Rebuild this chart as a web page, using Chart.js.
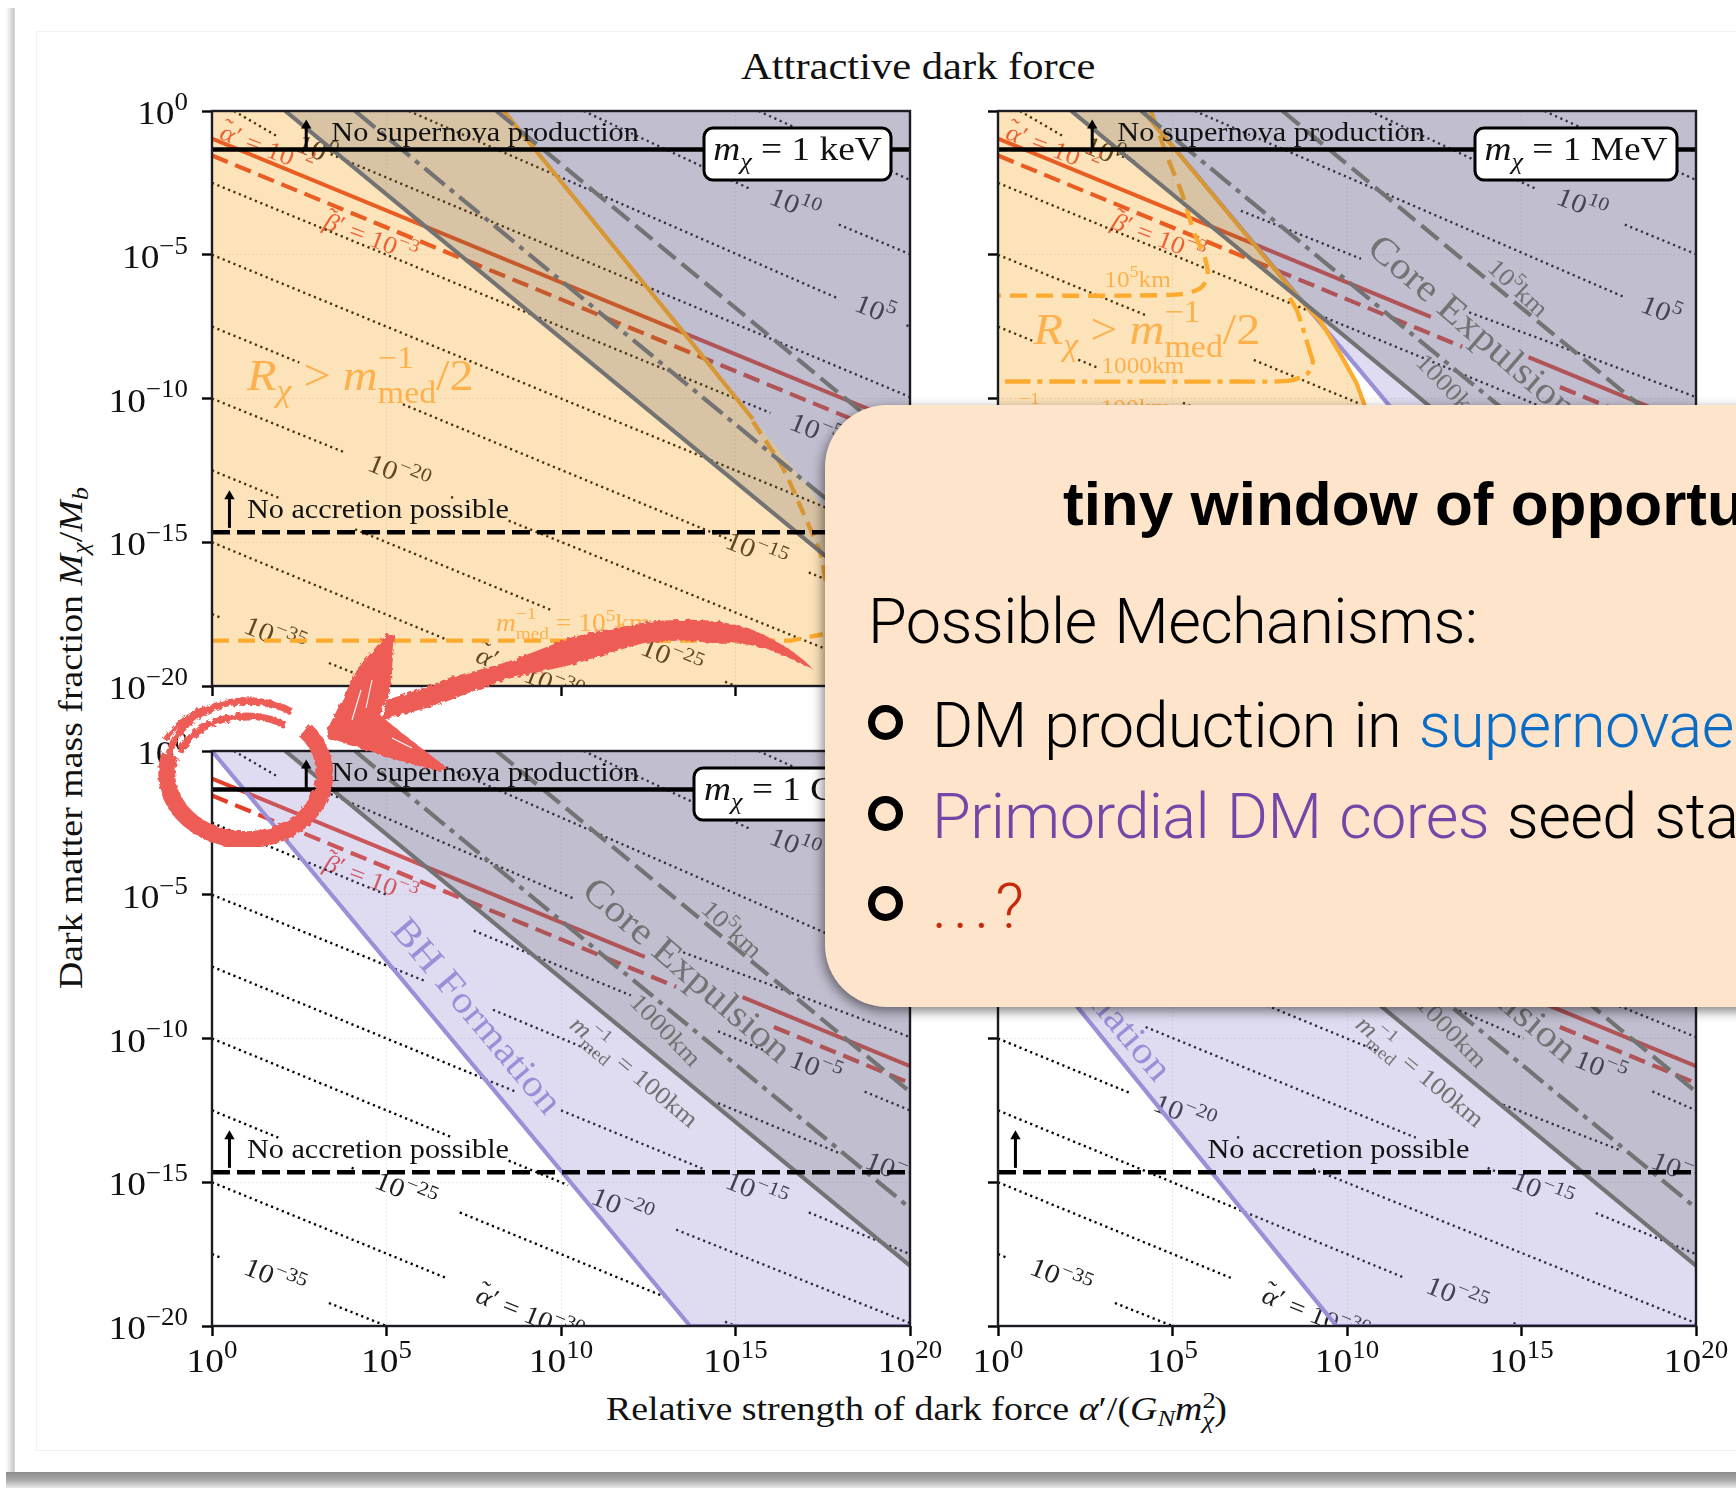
<!DOCTYPE html>
<html>
<head>
<meta charset="utf-8">
<script src="https://cdn.jsdelivr.net/npm/chart.js"></script>
<style>
html, body { margin: 0; padding: 0; width: 1736px; height: 1488px; overflow: hidden; background: #fff; }
canvas { position: absolute; }
.abs { position: absolute; white-space: nowrap; }
.cm { font-family: "Liberation Serif", serif; color: #111; transform-origin: 0 0; }
.cm i { font-style: italic; }
.sl { position: relative; display: inline-block; font-size: 70%; }
#sideShade { left: 6px; top: 8px; width: 9px; height: 1464px; background: linear-gradient(to right, #fff, #c8c8c8 90%, #e8e8e8); }
#botShade { left: 6px; top: 1472px; width: 1730px; height: 16px; background: linear-gradient(to bottom, #8c8c8c, #a8a8a8 50%, #e8e8e8); }
#card { left: 36px; top: 31px; width: 1760px; height: 1418px; border: 1px solid #f3f3f3; }
#callout { left: 825px; top: 405px; width: 1000px; height: 602px; background: #fee4ca; border-radius: 62px; box-shadow: -2px 4px 12px rgba(0,0,0,.5); }
.say { font-family: Roboto, "Liberation Sans", sans-serif; font-weight: 300; font-size: 63px; line-height: 70px; color: #000; letter-spacing: -0.6px; word-spacing: 3px; }
.bul { left: 868px; width: 21px; height: 21px; border: 7px solid #000; border-radius: 50%; }
</style>
</head>
<body>
<div class="abs" id="sideShade"></div>
<div class="abs" id="botShade"></div>
<div class="abs" id="card"></div>

<div class="abs cm" id="title" style="left:741px;top:44px;font-size:38px;transform:scaleX(1.12)">Attractive dark force</div>
<div class="abs cm" id="xlab" style="left:606px;top:1390px;font-size:34px;transform:scaleX(1.115)">Relative strength of dark force <i>α</i>′/(<i>G<span class="sl" style="top:6px">N</span>m</i><span class="sl" style="top:-12px;width:0">2</span><span class="sl" style="top:8px"><i>χ</i></span>)</div>
<div class="abs cm" id="ylab" style="left:52px;top:989px;font-size:34px;transform:rotate(-90deg) scaleX(1.113)">Dark matter mass fraction <i>M<span class="sl" style="top:6px">χ</span></i>/<i>M<span class="sl" style="top:6px">b</span></i></div>

<canvas id="chartTL"></canvas>
<canvas id="chartTR"></canvas>
<canvas id="chartBL"></canvas>
<canvas id="chartBR"></canvas>

<div class="abs" id="callout"></div>
<div class="abs say" style="left:1063px;top:469px;font-family:'Liberation Sans';font-weight:700;font-size:62px;letter-spacing:0;word-spacing:0">tiny window of opportunity</div>
<div class="abs say" style="left:868px;top:587px">Possible Mechanisms:</div>
<div class="abs bul" style="top:705px"></div>
<div class="abs say" style="left:932px;top:691px">DM production in <span style="color:#0a6cc5">supernovae</span></div>
<div class="abs bul" style="top:796px"></div>
<div class="abs say" style="left:932px;top:782px"><span style="color:#7545a8">Primordial DM cores</span> seed stars</div>
<div class="abs bul" style="top:886px"></div>
<div class="abs say" style="left:932px;top:872px;color:#c8290a;letter-spacing:6px">...?</div>

<svg class="abs" style="left:0;top:0" width="1736" height="1488">
  <defs>
    <filter id="brush" x="-5%" y="-5%" width="110%" height="110%">
      <feTurbulence type="fractalNoise" baseFrequency="0.22" numOctaves="2" seed="4"/>
      <feDisplacementMap in="SourceGraphic" scale="5"/>
    </filter>
  </defs>
  <g filter="url(#brush)" fill="#ee5c57" stroke="none">
    <path d="M813 669 Q790 645 748 628 Q715 618 679 620 Q650 620 627 626 Q600 630 569 638 Q540 650 507 662 Q480 670 451 677 Q420 690 386 700 L383 720 Q410 712 438 705 Q470 692 507 679 Q540 672 575 664 Q610 652 644 643 Q680 638 713 643 Q740 642 765 648 Q790 658 813 669 Z"/>
    <path d="M387 634 L395 635 L390 690 L380 715 L402 733 L447 768 L440 772 L390 758 L327 738 L328 728 L358 668 Z"/>
  </g>
  <g filter="url(#brush)" fill="none" stroke="#ee5c57">
    <path d="M305 730 A79 66 0 1 1 170 755" stroke-width="17"/>
    <path d="M168 760 A80 66 0 0 1 292 712" stroke-width="7"/>
    <path d="M180 752 A72 58 0 0 1 285 725" stroke-width="7"/>
    <path d="M165 740 A86 72 0 0 1 260 704" stroke-width="5"/>
  </g>
  <g fill="none" stroke="#fff" stroke-width="1.1">
    <path d="M361 690 L352 720"/><path d="M372 680 L366 708"/><path d="M392 738 L412 748"/>
  </g>
</svg>

<script>
// values are log10 of the axis values
const xTicks = [1e0, 1e5, 1e10, 1e15, 1e20];
const yTicks = [1e0, 1e-5, 1e-10, 1e-15, 1e-20];
const xTickExp = ['0', '5', '10', '15', '20'];
const yTickExp = ['0', '−5', '−10', '−15', '−20'];

// gray core expulsion lines
const coreSolidX = [2.1, 20];
const coreSolidY = [0, -17.9];
const coreDashDotX = [4.1, 20];
const coreDashDotY = [0, -15.9];
const coreDashX = [8.15, 20];
const coreDashY = [0, -11.85];

// red lines
const redSolidX = [0, 20];
const redSolidY = [-0.96, -10.96];
const redDashX = [0, 20];
const redDashY = [-1.55, -11.55];
const redSolidGapX = [0, 12.4, null, 15.2, 20];
const redSolidGapY = [-0.96, -7.16, null, -8.56, -10.96];
const redDashGapX = [0, 13.3, null, 16.1, 20];
const redDashGapY = [-1.55, -8.2, null, -9.6, -11.55];

// horizontal limits
const noSupernovaY = -1.34;
const noAccretionY = -14.65;

// BH formation edge per panel
const lavTLX = [8.36, 13.46, 17.54, 18.2, 20];
const lavTLY = [0, -7.62, -13.77, -20, -20];
const lavTRX = [4.16, 11.16, 17.86, 20];
const lavTRY = [0, -10.17, -20, -20];
const lavBLX = [0, 13.7, 20];
const lavBLY = [0, -20, -20];
const lavBRX = [0, 9.4, 9.7, 20];
const lavBRY = [-5.5, -19.55, -20, -20];

// size region
const orangeTLX = [0, 8.36, 13.46, 17.54, 18.2];
const orangeTLY = [0, 0, -7.62, -13.77, -20];
const orangeEdgeTLX = [8.36, 13.46, 15.5];
const orangeEdgeTLY = [0, -7.62, -10.72];
const orangeTRX = [0, 4.16, 8.65, 9.24, 9.83, 10.27, 10.49, 10.6, 11];
const orangeTRY = [0, 0, -6.55, -7.3, -8.5, -9.46, -10.18, -11, -20];
const orangeEdgeTRX = [4.16, 8.65, 9.24, 9.83, 10.27, 10.49, 10.6];
const orangeEdgeTRY = [0, -6.55, -7.3, -8.5, -9.46, -10.18, -11];

const orangeDashTLX = [15.5, 16.35, 16.77, 17.45, 17.6];
const orangeDashTLY = [-10.8, -12.4, -13.5, -15.45, -16.5];
const orangeFlatTLX = [0, 16.6, 17.5];
const orangeFlatTLY = [-18.42, -18.42, -18.2];
const orangeDashTRX = [4.38, 4.89, 5.26, 5.63, 5.92, 6.01, 5.78, 5.26, 3.94, 0];
const orangeDashTRY = [0, -1.71, -2.83, -4.27, -5.06, -5.78, -6.18, -6.37, -6.42, -6.42];
const orangeDotTRX = [8.36, 8.58, 8.95, 9.02, 8.87, 8.36, 6.88, 0.2];
const orangeDotTRY = [-6.5, -6.98, -8.42, -8.74, -9.13, -9.38, -9.41, -9.41];

// dotted contours, each piece is x1, y1, x2, y2
const contoursTL = [
  [15.66, 0, 20, -2.4],
  [10.65, 0, 15.4, -2.7], [17.96, -3.95, 20, -4.98],
  [5.64, 0, 17.9, -6.5], [19.9, -7.45, 20, -7.5],
  [0.63, 0, 1.87, -0.88], [3.4, -1.5, 20, -9.95],
  [0, -2.5, 16, -10.5], [18.6, -11.8, 20, -12.5],
  [0, -5, 18, -14],
  [0, -7.5, 2.5, -8.75], [5.47, -10.2, 15, -15], [17.1, -16.05, 20, -17.5],
  [0, -10, 3.85, -11.9], [6.85, -13.42, 6.95, -13.48], [8.5, -14.25, 20, -19.9],
  [0, -12.5, 2, -13.5], [4.1, -14.55, 9.72, -17.36], [14.7, -19.85, 15, -20],
  [0, -15, 6.75, -18.4],
  [0, -17.5, 0.3, -17.65], [3.35, -19.2, 5, -20]
];
const contoursTR = [
  [15.66, 0, 20, -2.4],
  [10.65, 0, 15.4, -2.7], [17.96, -3.95, 20, -4.98],
  [5.64, 0, 17.9, -6.45],
  [0.63, 0, 1.87, -0.88], [3.4, -1.5, 4, -1.8], [6.96, -3.47, 10.4, -5.14], [13.5, -7, 20, -9.95],
  [0, -2.5, 16, -10.5],
  [0, -5, 4.23, -7.1], [7.33, -8.66, 10.4, -10.2],
  [0, -7.5, 1, -8], [2.3, -8.65, 2.9, -8.95], [5.3, -10.15, 5.5, -10.25]
];
const contoursBL = [
  [15.66, 0, 20, -2.4],
  [10.65, 0, 15.4, -2.7], [17.96, -3.95, 20, -4.98],
  [5.64, 0, 17.9, -6.5],
  [0.63, 0, 1.87, -0.88], [3.4, -1.5, 10.4, -5.15], [13.5, -7, 20, -9.95],
  [0, -2.5, 5, -5], [7.5, -6.25, 12, -8.5], [14.5, -9.75, 16, -10.5], [18.7, -11.85, 20, -12.5],
  [0, -5, 6.1, -8], [8.05, -9, 11, -10.5], [14.5, -12.25, 18, -14],
  [0, -7.5, 8.7, -11.85], [10, -12.5, 14.1, -14.55], [17.1, -16.05, 20, -17.5],
  [0, -10, 6.9, -13.45], [8.5, -14.25, 10.2, -15.1], [13.3, -16.65, 20, -19.9],
  [0, -12.5, 1.9, -13.45], [4, -14.5, 4.1, -14.55], [7.1, -16.05, 13.1, -19.05], [14.7, -19.85, 15, -20],
  [0, -15, 6.75, -18.35],
  [0, -17.5, 0.3, -17.65], [3.35, -19.2, 5, -20]
];
const contoursBR = [
  [17.8, -8.87, 20, -9.95],
  [13.22, -9.03, 15.06, -10],
  [18.75, -11.84, 20, -12.5],
  [7.7, -8.85, 10.9, -10.45], [14.47, -12.3, 17.86, -13.9],
  [4.23, -9.6, 11.97, -13.45], [14.03, -14.5, 14.3, -14.65], [17.13, -16.07, 20, -17.5],
  [0, -10, 3.79, -11.9], [6.85, -13.42, 6.95, -13.48], [9.02, -14.54, 20, -19.9],
  [0, -12.5, 11.6, -18.3], [14.77, -19.9, 15, -20],
  [0, -15, 6.74, -18.36],
  [0, -17.5, 0.25, -17.62], [3.35, -19.2, 5, -20]
];

// text helpers, runs are [text, relative size, italic, raise, no advance]
const pow = e => [['10', 1], [e, 0.72, false, -0.42]];
const massRuns = u => [['m', 1, true], ['χ', 0.7, true, 0.25], [' = 1 ', 1], [u, 1]];
const tilded = g => [['˜', 1, false, -0.2, true], [g, 1, true], ['′', 1, false, -0.05]];
const alphaRuns = e => [...tilded('α'), [' = 10', 1], [e, 0.72, false, -0.42]];
const betaRuns = e => [...tilded('β'), [' = 10', 1], [e, 0.72, false, -0.42]];
const sizeRuns = [['R', 1, true], ['χ', 0.7, true, 0.25], [' > ', 1], ['m', 1, true], ['−1', 0.7, false, -0.5, true], ['med', 0.7, false, 0.3], ['/2', 1]];
const medRuns = [['m', 1, true], ['−1', 0.7, false, -0.5, true], ['med', 0.7, false, 0.3], [' = 100km', 1]];
const kmRuns = [['10', 1], ['5', 0.7, false, -0.42], ['km', 1]];

const GREY = '#737373', ORG = '#fdb04b', LAV = '#9a90d8', REDT = '#e8453c', INK = '#222';
const ct = (e, x, y) => ({ t: pow(e), x, y, rot: 22, size: 27, color: INK, under: true });
const lab = (t, x, y, rot, size, color, under) => ({ t, x, y, rot, size, color, under });

const textTL = [
  ct('10', 16.7, -3.25), ct('5', 19, -6.9), ct('−5', 17.3, -11.1), ct('−15', 15.6, -15.3),
  ct('−20', 5.35, -12.6), ct('−25', 13.17, -19), ct('−35', 1.8, -18.25), ct('0', 3, -1.35),
  lab(alphaRuns('−30'), 9.1, -19.6, 22, 26, INK, true),
  lab(alphaRuns('−2'), 1.58, -1.3, 21, 25, REDT, true),
  lab(betaRuns('−3'), 4.55, -4.4, 21, 25, REDT, true),
  lab(sizeRuns, 4.25, -9.2, 0, 44, ORG),
  lab([['m', 1, true], ['−1', 0.7, false, -0.5, true], ['med', 0.7, false, 0.3], [' = 10', 1], ['5', 0.7, false, -0.42], ['km', 1]], 10.35, -17.8, 0, 25, ORG)
];
const textTR = [
  ct('10', 16.73, -3.25), ct('5', 19, -6.93), ct('0', 3.05, -1.4),
  lab(alphaRuns('−2'), 1.58, -1.3, 21, 25, REDT, true),
  lab(betaRuns('−3'), 4.6, -4.4, 21, 25, REDT, true),
  lab(sizeRuns, 4.27, -7.6, 0, 44, ORG),
  lab(kmRuns, 4, -5.86, 0, 23, ORG),
  lab([['1000km', 1]], 4.15, -8.85, 0, 23, ORG),
  lab([['m', 1, true], ['−1', 0.7, false, -0.5, true], ['med', 0.7, false, 0.3]], 0.8, -10.35, 0, 25, ORG),
  lab([['100km', 1]], 3.95, -10.3, 0, 23, ORG),
  lab(kmRuns, 14.9, -6.15, 43, 25, GREY),
  lab([['1000km', 1]], 13, -9.7, 46, 25, GREY),
  lab([['Core Expulsion', 1]], 13.6, -7.5, 40.7, 38, GREY)
];
const textBL = [
  ct('10', 16.7, -3.25), ct('−5', 17.3, -11), ct('−10', 19.6, -14.6), ct('−15', 15.6, -15.3),
  ct('−20', 11.75, -15.85), ct('−25', 5.55, -15.3), ct('−35', 1.8, -18.3),
  lab(alphaRuns('−30'), 9.1, -19.6, 22, 26, INK, true),
  lab(betaRuns('−3'), 4.55, -4.45, 21, 25, REDT, true),
  lab(kmRuns, 14.9, -6.2, 43, 25, GREY),
  lab([['1000km', 1]], 13, -9.7, 46, 25, GREY),
  lab(medRuns, 12.1, -11.15, 40, 25, GREY),
  lab([['Core Expulsion', 1]], 13.62, -7.6, 40.7, 38, GREY),
  lab([['BH Formation', 1]], 7.6, -9.2, 50, 38, LAV)
];
const textBR = [
  ct('−5', 17.27, -11), ct('−10', 19.6, -14.6), ct('−15', 15.6, -15.3),
  ct('−20', 5.34, -12.6), ct('−25', 13.15, -18.94), ct('−35', 1.8, -18.3),
  lab(alphaRuns('−30'), 9.1, -19.6, 22, 26, INK, true),
  lab([['1000km', 1]], 13, -9.75, 46, 25, GREY),
  lab(medRuns, 12.1, -11.14, 40, 25, GREY),
  lab([['Core Expulsion', 1]], 13.62, -7.6, 40.7, 38, GREY),
  lab([['BH Formation', 1]], 2.55, -8.05, 50, 38, LAV)
];

function rich(ctx, runs, x, y, o) {
  const size = o.size, sx = 1.1;
  const font = (s, it) => `${it ? 'italic ' : ''}${size * s}px "Liberation Serif"`;
  let total = 0;
  runs.forEach(r => {
    ctx.font = font(r[1] || 1, r[2]);
    if (!r[4]) total += ctx.measureText(r[0]).width;
  });
  ctx.save();
  ctx.translate(x, y);
  ctx.rotate((o.rot || 0) * Math.PI / 180);
  ctx.scale(sx, 1);
  ctx.fillStyle = o.color || '#000';
  ctx.textBaseline = 'alphabetic';
  ctx.textAlign = 'left';
  let px = o.align === 'right' ? -total : o.align === 'left' ? 0 : -total / 2;
  const base = size * 0.33;
  runs.forEach(r => {
    ctx.font = font(r[1] || 1, r[2]);
    ctx.fillText(r[0], px, base + (r[3] || 0) * size);
    if (!r[4]) px += ctx.measureText(r[0]).width;
  });
  ctx.restore();
  return total * sx;
}

function pts(xs, ys) {
  return xs.map((x, i) => ({ x: x === null ? 1 : 10 ** x, y: ys[i] === null ? null : 10 ** ys[i] }));
}
function segPts(segs) {
  const out = [];
  segs.forEach(s => {
    out.push({ x: 10 ** s[0], y: 10 ** s[1] }, { x: 10 ** s[2], y: 10 ** s[3] }, { x: 10 ** s[2], y: null });
  });
  return out;
}
function line(data, color, width, dash, extra) {
  return Object.assign({ data, borderColor: color, borderWidth: width, borderDash: dash || [], pointRadius: 0, fill: false, tension: 0, spanGaps: false }, extra || {});
}
function area(data, color, target) {
  return line(data, 'rgba(0,0,0,0)', 0, [], { backgroundColor: color, fill: { target } });
}
function arrow(x, y1, y2) {
  return line(pts([x, x], [y1, y2]), '#000', 3, [], {
    pointRadius: [0, 6], pointStyle: 'triangle', pointBackgroundColor: '#000', pointBorderWidth: 0
  });
}

function makePanel(id, left, top, p) {
  const mL = 110, mR = 45, mT = 30, mB = 80;
  const cv = document.getElementById(id);
  cv.width = 698 + mL + mR;
  cv.height = 575 + mT + mB;
  cv.style.left = (left - mL) + 'px';
  cv.style.top = (top - mT) + 'px';

  // bottom layer first
  const ds = [];
  ds.push(line(segPts(p.contours), '#000', 2.4, [2.2, 3.6]));
  ds.push(line(pts(p.redS[0], p.redS[1]), '#e33f28', 4));
  ds.push(line(pts(p.redD[0], p.redD[1]), '#e33f28', 4.2, [17, 8]));
  ds.push(area(pts(p.lav[0], p.lav[1]), 'rgba(148,135,205,0.3)', 'end'));
  if (p.lavEdge) ds.push(line(pts(p.lav[0], p.lav[1]), LAV, 4.2));
  if (p.orange) ds.push(area(pts(p.orange[0], p.orange[1]), 'rgba(248,162,28,0.3)', 'start'));
  if (p.orangeEdge) ds.push(line(pts(p.orangeEdge[0], p.orangeEdge[1]), '#fdab2e', 4.2));
  (p.orangeDash || []).forEach(d => ds.push(line(pts(d[0], d[1]), '#fdab2e', 4.4, d[2], { tension: d[3] || 0 })));
  ds.push(area(pts(coreSolidX, coreSolidY), 'rgba(75,80,84,0.21)', 'end'));
  ds.push(line(pts(coreSolidX, coreSolidY), GREY, 4.2));
  ds.push(line(pts(coreDashDotX, coreDashDotY), GREY, 4.2, [26, 7, 5, 7]));
  ds.push(line(pts(coreDashX, coreDashY), GREY, 4.2, [22, 8]));
  ds.push(line(pts([0, 20], [noSupernovaY, noSupernovaY]), '#000', 4.6));
  ds.push(line(pts([0, 20], [noAccretionY, noAccretionY]), '#000', 4.6, [18, 7]));
  ds.push(arrow(2.7, -1.3, -0.5));
  ds.push(arrow(0.5, -14.5, -13.4));
  ds.reverse();

  const placeText = (chart, under) => {
    const { ctx, chartArea: a, scales } = chart;
    ctx.save();
    ctx.beginPath();
    ctx.rect(a.left, a.top, a.width, a.height);
    ctx.clip();
    p.text.filter(t => !!t.under === under).forEach(t => {
      rich(ctx, t.t, scales.x.getPixelForValue(10 ** t.x), scales.y.getPixelForValue(10 ** t.y), { size: t.size, rot: t.rot, color: t.color });
    });
    ctx.restore();
  };

  const panelText = {
    id: 'panelText',
    beforeDatasetsDraw(chart) { placeText(chart, true); },
    afterDatasetsDraw(chart) {
      const { ctx, chartArea: a, scales } = chart;
      placeText(chart, false);
      if (p.top) rich(ctx, [['No supernova production', 1]], scales.x.getPixelForValue(10 ** 3.42), scales.y.getPixelForValue(10 ** -0.72), { size: 27.5, align: 'left', color: '#111' });
      rich(ctx, [['No accretion possible', 1]], scales.x.getPixelForValue(10 ** p.accX), scales.y.getPixelForValue(10 ** -13.85), { size: 27.5, align: 'left', color: '#111' });
      if (p.box) {
        const boxW = p.boxW, bx = a.left + 679 - boxW, by = a.top + 17;
        ctx.beginPath();
        ctx.roundRect(bx, by, boxW, 52, 9);
        ctx.fillStyle = '#fff';
        ctx.fill();
        ctx.lineWidth = 3;
        ctx.strokeStyle = '#000';
        ctx.stroke();
        rich(ctx, massRuns(p.box), bx + boxW / 2, by + 21, { size: 34, color: '#111' });
      }
      ctx.lineWidth = 2.4;
      ctx.strokeStyle = '#1c1c24';
      ctx.strokeRect(a.left, a.top, a.width, a.height);
    },
    afterDraw(chart) {
      const { ctx, chartArea: a, scales } = chart;
      if (p.yLabels) yTicks.forEach((v, i) => {
        rich(ctx, pow(yTickExp[i]), a.left - 24, scales.y.getPixelForValue(v) + 2, { size: 34, align: 'right', color: '#111' });
      });
      if (p.xLabels) xTicks.forEach((v, i) => {
        rich(ctx, pow(xTickExp[i]), scales.x.getPixelForValue(v), a.bottom + 35, { size: 34, color: '#111' });
      });
    }
  };

  const axisBase = {
    type: 'logarithmic',
    border: { display: false, dash: [2, 2] },
    ticks: { display: false },
    grid: { color: 'rgba(0,0,0,0.09)', lineWidth: 1, drawTicks: true, tickLength: 10, tickColor: '#000', tickWidth: 2.4 }
  };

  return new Chart(cv, {
    type: 'line',
    data: { datasets: ds },
    options: {
      responsive: false,
      animation: false,
      devicePixelRatio: 1,
      events: [],
      parsing: { xAxisKey: 'x', yAxisKey: 'y' },
      layout: { padding: { left: 0, right: mR, top: mT, bottom: 0 } },
      plugins: { legend: { display: false }, tooltip: { enabled: false }, title: { display: false } },
      scales: {
        x: Object.assign({}, axisBase, {
          min: 1, max: 1e20,
          afterBuildTicks: s => { s.ticks = xTicks.map(value => ({ value })); },
          afterFit: s => { s.height = mB; }
        }),
        y: Object.assign({}, axisBase, {
          min: 1e-20, max: 1,
          afterBuildTicks: s => { s.ticks = yTicks.map(value => ({ value })); },
          afterFit: s => { s.width = mL; }
        })
      }
    },
    plugins: [panelText]
  });
}

makePanel('chartTL', 212, 111, {
  contours: contoursTL, redS: [redSolidX, redSolidY], redD: [redDashX, redDashY],
  lav: [lavTLX, lavTLY], orange: [orangeTLX, orangeTLY], orangeEdge: [orangeEdgeTLX, orangeEdgeTLY],
  orangeDash: [[orangeDashTLX, orangeDashTLY, [15, 8], 0.2], [orangeFlatTLX, orangeFlatTLY, [17, 9]]],
  text: textTL, top: true, accX: 1, box: 'keV', boxW: 187, yLabels: true
});
makePanel('chartTR', 998, 111, {
  contours: contoursTR, redS: [redSolidGapX, redSolidGapY], redD: [redDashGapX, redDashGapY],
  lav: [lavTRX, lavTRY], lavEdge: true, orange: [orangeTRX, orangeTRY], orangeEdge: [orangeEdgeTRX, orangeEdgeTRY],
  orangeDash: [[orangeDashTRX, orangeDashTRY, [17, 9], 0.25], [orangeDotTRX, orangeDotTRY, [26, 7, 5, 7], 0.25]],
  text: textTR, top: true, accX: 1, box: 'MeV', boxW: 202
});
makePanel('chartBL', 212, 751, {
  contours: contoursBL, redS: [redSolidGapX, redSolidGapY], redD: [redDashGapX, redDashGapY],
  lav: [lavBLX, lavBLY], lavEdge: true,
  text: textBL, top: true, accX: 1, box: 'GeV', boxW: 197, yLabels: true, xLabels: true
});
makePanel('chartBR', 998, 751, {
  contours: contoursBR, redS: [redSolidGapX, redSolidGapY], redD: [redDashGapX, redDashGapY],
  lav: [lavBRX, lavBRY], lavEdge: true,
  text: textBR, top: false, accX: 6, xLabels: true
});
</script>
</body>
</html>
